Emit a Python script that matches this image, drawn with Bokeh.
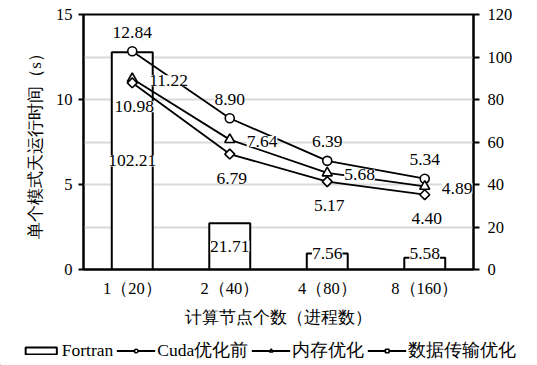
import math
from bokeh.plotting import figure
from bokeh.layouts import column
from bokeh.core.properties import value
from bokeh.models import (Range1d, LinearAxis, FixedTicker, ColumnDataSource,
                          LabelSet, Legend, LegendItem, FactorRange)
from bokeh.embed import file_html
from bokeh.resources import INLINE

categories = ["1（20）", "2（40）", "4（80）", "8（160）"]
fortran = [102.21, 21.71, 7.56, 5.58]
cuda_before = [12.84, 8.90, 6.39, 5.34]
mem_opt = [11.22, 7.64, 5.68, 4.89]
transfer_opt = [10.98, 6.79, 5.17, 4.40]
left_ticks = [0, 5, 10, 15]
right_ticks = [0, 20, 40, 60, 80, 100, 120]
grid_ticks = [2.5, 5, 7.5, 10, 12.5]
series_names = ["Fortran", "Cuda优化前", "内存优化", "数据传输优化"]

FONT = "serif"
NUM_SIZE = "16.5px"
LABEL_SIZE = "17.5px"
CJK_SIZE = "17px"

p = figure(x_range=FactorRange(*categories, range_padding=0),
           y_range=Range1d(0, 15),
           width=537, height=335,
           min_border_left=83, min_border_right=64, min_border_top=14, min_border_bottom=66,
           output_backend="svg", toolbar_location=None)
p.extra_y_ranges = {"right": Range1d(0, 120)}

p.outline_line_color = "black"
p.outline_line_width = 2
p.background_fill_color = "white"
p.border_fill_color = "white"
p.xgrid.visible = False
p.ygrid.ticker = FixedTicker(ticks=grid_ticks)
p.ygrid.grid_line_color = "#d9d9d9"
p.ygrid.grid_line_width = 2

# Left axis
ya = p.yaxis[0]
ya.ticker = FixedTicker(ticks=left_ticks)
ya.axis_line_color = "black"
ya.axis_line_width = 2
ya.major_tick_out = 5
ya.major_tick_in = 0
ya.minor_tick_out = 0
ya.minor_tick_in = 0
ya.major_tick_line_width = 2
ya.major_label_standoff = 6
ya.major_label_text_font = FONT
ya.major_label_text_font_size = NUM_SIZE
ya.major_label_text_color = "black"
ya.axis_label = "单个模式天运行时间（s）"
ya.axis_label_text_font = FONT
ya.axis_label_text_font_size = CJK_SIZE
ya.axis_label_text_font_style = "normal"
ya.axis_label_text_color = "black"
ya.axis_label_standoff = 8

# Right axis
ra = LinearAxis(y_range_name="right", ticker=FixedTicker(ticks=right_ticks))
ra.axis_line_color = "black"
ra.axis_line_width = 2
ra.major_tick_out = 6
ra.major_tick_in = 0
ra.minor_tick_out = 0
ra.minor_tick_in = 0
ra.major_tick_line_width = 2
ra.major_label_standoff = 8
ra.major_label_text_font = FONT
ra.major_label_text_font_size = NUM_SIZE
ra.major_label_text_color = "black"
p.add_layout(ra, "right")

# Bottom axis
xa = p.xaxis[0]
xa.axis_line_color = "black"
xa.axis_line_width = 2
xa.major_tick_out = 0
xa.major_tick_in = 0
xa.minor_tick_out = 0
xa.major_label_standoff = 9
xa.major_label_text_font = FONT
xa.major_label_text_font_size = NUM_SIZE
xa.major_label_text_color = "black"
xa.axis_label = "计算节点个数（进程数）"
xa.axis_label_text_font = FONT
xa.axis_label_text_font_size = CJK_SIZE
xa.axis_label_text_font_style = "normal"
xa.axis_label_text_color = "black"
xa.axis_label_standoff = 7

BAR_STYLE = dict(fill_color="white", line_color="black", line_width=2)
LINE_STYLE = dict(line_color="black", line_width=1.8)
MARK_STYLE = dict(fill_color="white", line_color="black", line_width=1.6)

# Bars (right axis)
bar_src = ColumnDataSource(dict(
    x=categories, top=fortran,
    ly=[max(v / 2, 7.5) for v in fortran],
    txt=["%.2f" % v for v in fortran]))
p.vbar(x="x", top="top", width=0.42, source=bar_src, y_range_name="right", **BAR_STYLE)

series = [
    (cuda_before, "circle", 9, 0),
    (mem_opt, "triangle", 10, 0),
    (transfer_opt, "square", 7, math.pi / 4),
]
srcs = []
for vals, marker, size, ang in series:
    src = ColumnDataSource(dict(x=categories, y=vals, txt=["%.2f" % v for v in vals]))
    srcs.append(src)
    p.line("x", "y", source=src, **LINE_STYLE)
    p.scatter("x", "y", source=src, marker=marker, size=size, angle=ang, **MARK_STYLE)

def labels(src, y_name=None, **kw):
    args = dict(x="x", y="ly" if y_name else "y", text="txt", source=src,
                text_font=value(FONT), text_font_size=value(LABEL_SIZE), text_color="black",
                background_fill_color="white", text_baseline="middle")
    if y_name:
        args["y_range_name"] = y_name
    args.update(kw)
    p.add_layout(LabelSet(**args))

labels(bar_src, "right", text_align="center")
labels(srcs[0], text_align="center", y_offset=19)
labels(srcs[1], text_align="left", x_offset=17, y_offset=-2)
labels(srcs[2], text_align="center", x_offset=2, y_offset=-24)

# Legend strip (proxy renderers lie outside the strip's visible range)
lg = figure(width=537, height=30, x_range=Range1d(0, 1), y_range=Range1d(0, 1),
            min_border=0, min_border_left=0, min_border_right=0,
            min_border_top=0, min_border_bottom=0,
            x_axis_location=None, y_axis_location=None,
            output_backend="svg", toolbar_location=None)
lg.grid.visible = False
lg.outline_line_color = None
lg.background_fill_color = "white"
lg.border_fill_color = "white"

# keep the strip's frame spanning the full width (no frame alignment with the chart)
for fig in (p, lg):
    if "frame_align" in fig.properties():
        fig.frame_align = False

r_bar = lg.vbar(x=[-5], top=[-5], width=0.1, **BAR_STYLE)
items = [LegendItem(label=series_names[0], renderers=[r_bar])]
for name, (vals, marker, size, ang) in zip(series_names[1:], series):
    l = lg.line(x=[-5, -4], y=[-5, -5], **LINE_STYLE)
    s = lg.scatter(x=[-5], y=[-5], marker=marker, size=size, angle=ang, **MARK_STYLE)
    items.append(LegendItem(label=name, renderers=[l, s]))

legend = Legend(items=items, orientation="horizontal", glyph_width=39, glyph_height=9,
                label_standoff=2, spacing=3, padding=0, margin=0,
                border_line_alpha=0, background_fill_alpha=0,
                label_text_font=FONT, label_text_font_size="17.5px",
                label_text_color="black", location="center", label_height=18)
lg.add_layout(legend, "center")

layout = column(p, lg, spacing=0)
open("out.html", "w").write(file_html(layout, INLINE))
